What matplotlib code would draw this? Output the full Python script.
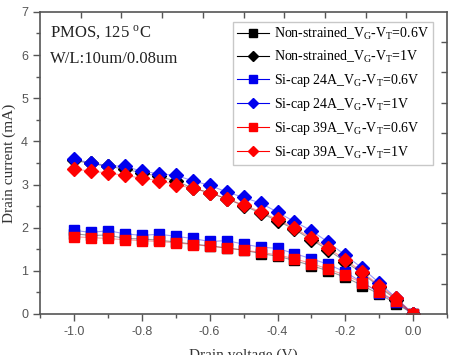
import numpy as np
import matplotlib
matplotlib.use("Agg")
import matplotlib.pyplot as plt
from matplotlib.ticker import MultipleLocator

# Drain voltage (V)
vd = [-1.0, -0.95, -0.9, -0.85, -0.8, -0.75, -0.7, -0.65, -0.6, -0.55, -0.5,
      -0.45, -0.4, -0.35, -0.3, -0.25, -0.2, -0.15, -0.1, -0.05, 0.0]

# Drain current (mA)
ns_06 = [1.86, 1.82, 1.83, 1.75, 1.74, 1.71, 1.67, 1.62, 1.58, 1.53, 1.48,
         1.40, 1.34, 1.24, 1.12, 1.00, 0.85, 0.66, 0.46, 0.24, 0.0]
ns_1 = [3.56, 3.49, 3.42, 3.36, 3.27, 3.19, 3.08, 2.92, 2.81, 2.67, 2.51,
        2.34, 2.16, 1.96, 1.72, 1.48, 1.21, 0.94, 0.63, 0.33, 0.0]
si24_06 = [1.94, 1.89, 1.93, 1.86, 1.82, 1.85, 1.80, 1.75, 1.68, 1.70, 1.62,
           1.55, 1.52, 1.40, 1.28, 1.15, 0.97, 0.73, 0.49, 0.28, 0.0]
si24_1 = [3.59, 3.50, 3.44, 3.42, 3.31, 3.25, 3.21, 3.09, 2.98, 2.83, 2.70,
          2.57, 2.36, 2.14, 1.93, 1.66, 1.36, 1.06, 0.72, 0.37, 0.0]
si39_06 = [1.79, 1.77, 1.75, 1.72, 1.70, 1.68, 1.65, 1.61, 1.57, 1.53, 1.48,
           1.43, 1.37, 1.28, 1.17, 1.04, 0.90, 0.72, 0.52, 0.29, 0.0]
si39_1 = [3.36, 3.31, 3.27, 3.21, 3.15, 3.09, 3.00, 2.91, 2.81, 2.67, 2.53,
          2.37, 2.19, 1.99, 1.76, 1.52, 1.26, 0.97, 0.66, 0.36, 0.0]

sub = r'_$\mathregular{V_G}$-$\mathregular{V_T}$='
series = [
    (ns_06, 'Non-strained' + sub + '0.6V', 'black', 's'),
    (ns_1, 'Non-strained' + sub + '1V', 'black', 'D'),
    (si24_06, 'Si-cap 24A' + sub + '0.6V', '#0000ee', 's'),
    (si24_1, 'Si-cap 24A' + sub + '1V', '#0000ee', 'D'),
    (si39_06, 'Si-cap 39A' + sub + '0.6V', '#ff0000', 's'),
    (si39_1, 'Si-cap 39A' + sub + '1V', '#ff0000', 'D'),
]

serif = 'Liberation Serif'
plt.rcParams['font.family'] = serif
plt.rcParams['mathtext.fontset'] = 'stix'

fig = plt.figure(figsize=(4.54, 3.55), dpi=100)
ax = fig.add_axes([0.088, 0.1155, 0.897, 0.851])

for vals, lab, col, mk in series:
    ms = 6.5 if mk == 's' else 7
    ax.plot(vd, vals, color=col, lw=0.8, alpha=0.4)
    ax.plot(vd, vals, linestyle='none', marker=mk, markersize=ms, color=col)
    # proxy for legend: faded line with solid marker
    ax.plot([], [], color=col, lw=0.8, marker=mk, markersize=5.5,
            markerfacecolor=col, markeredgecolor=col, label=lab)

handles, labels = ax.get_legend_handles_labels()
leg = ax.legend(handles, labels, loc='upper right', bbox_to_anchor=(0.966, 0.967),
                fontsize=10, frameon=True, fancybox=False, handlelength=2.3,
                handletextpad=0.4, labelspacing=0.5, borderpad=0.3,
                borderaxespad=0)
leg.get_frame().set_edgecolor('#bbbbbb')
leg.get_frame().set_linewidth(1.0)

ax.set_xlim(-1.1, 0.1)
ax.set_ylim(0, 7)
ax.xaxis.set_major_locator(MultipleLocator(0.2))
ax.xaxis.set_minor_locator(MultipleLocator(0.1))
ax.yaxis.set_major_locator(MultipleLocator(1))
ax.yaxis.set_minor_locator(MultipleLocator(0.5))
ax.xaxis.set_major_formatter(matplotlib.ticker.FormatStrFormatter('%.1f'))

ax.tick_params(which='major', direction='out', length=5, width=1, color='#555555',
               labelsize=9, labelcolor='#555555', labelfontfamily='Liberation Sans')
ax.tick_params(which='minor', direction='out', length=3, width=1, color='#555555')
ax.tick_params(top=False, right=False)
for s in ax.spines.values():
    s.set_color('#555555')
    s.set_linewidth(1.2)

ax.set_ylabel('Drain current (mA)', fontsize=11, color='#333333', labelpad=4)
ax.set_xlabel('Drain voltage (V)', fontsize=11, color='#333333', labelpad=8)

ax.text(0.024, 0.915, r'PMOS, 125 $^\mathregular{o}$C', transform=ax.transAxes,
        fontsize=12, color='#222222')
ax.text(0.024, 0.83, 'W/L:10um/0.08um', transform=ax.transAxes,
        fontsize=12, color='#222222')

# top and right axes carry their own inward ticks (10 divisions)
axt = ax.twiny()
axt.set_xlim(0, 10)
axt.set_xticks(np.arange(1, 10))
axt.tick_params(axis='x', direction='in', length=4, width=1, color='#555555',
                labeltop=False, top=True)
axr = ax.twinx()
axr.set_ylim(0, 10)
axr.set_yticks(np.arange(1, 10))
axr.tick_params(axis='y', direction='in', length=4, width=1, color='#555555',
                labelright=False, right=True)
for a in (axt, axr):
    for s in a.spines.values():
        s.set_visible(False)

fig.savefig('out.png', dpi=100)
